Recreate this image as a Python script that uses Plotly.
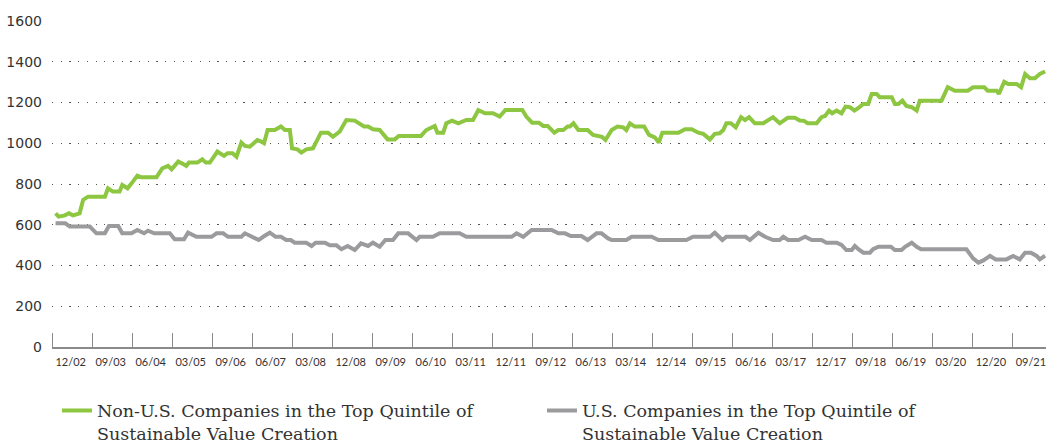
import plotly.graph_objects as go

# Months elapsed since the start of the chart window (x) and index level (y)
non_us_month = [0.8, 1.5, 2.9, 3.8, 4.7, 6.2, 7.0, 8.1, 11.9, 12.6, 13.7, 15.2, 15.8, 17.0, 17.9,
                19.2, 20.1, 23.5, 24.8, 26.1, 26.9, 28.4, 29.5, 30.2, 30.8, 32.7, 33.8, 34.6, 35.5,
                37.2, 38.7, 39.5, 40.6, 41.5, 42.6, 43.4, 44.5, 46.2, 47.1, 47.7, 48.5, 50.1, 51.5,
                52.4, 53.5, 54.0, 55.2, 56.1, 57.2, 58.7, 60.5, 62.1, 63.2, 64.7, 66.2, 68.1, 70.2,
                71.1, 72.2, 73.7, 75.5, 77.1, 78.0, 83.0, 84.2, 85.2, 86.1, 86.7, 88.0, 88.7, 90.0,
                91.4, 93.2, 94.7, 95.9, 97.4, 99.2, 100.7, 102.0, 105.8, 106.7, 108.0, 109.5, 110.5,
                111.5, 113.0, 113.9, 115.0, 116.0, 116.5, 117.3, 118.4, 120.5, 121.7, 123.0, 123.7,
                124.5, 125.9, 127.2, 128.5, 129.2, 130.0, 131.1, 133.2, 134.3, 135.6, 136.5, 137.3,
                140.9, 142.4, 143.9, 145.4, 146.5, 148.0, 149.1, 150.2, 151.0, 151.7, 152.7, 153.8,
                155.0, 155.9, 156.8, 158.1, 160.0, 161.3, 162.2, 163.7, 165.5, 167.1, 168.2, 169.2,
                170.0, 172.0, 173.1, 173.9, 174.8, 175.5, 176.5, 177.6, 178.5, 179.5, 180.5, 181.4,
                182.5, 183.6, 184.4, 185.5, 186.2, 188.9, 189.6, 190.4, 191.3, 192.2, 193.4, 194.5,
                195.2, 200.1, 201.5, 203.1, 206.0, 207.2, 209.7, 210.5, 212.5, 213.0, 214.2, 215.1,
                217.0, 218.0, 218.9, 220.0, 221.1, 222.2, 223.4]
non_us_value = [656, 640, 646, 656, 646, 656, 722, 738, 738, 779, 763, 763, 795, 779, 803,
                841, 833, 833, 877, 889, 872, 910, 898, 889, 905, 905, 921, 905, 905,
                959, 938, 951, 951, 934, 1003, 987, 983, 1016, 1008, 1000, 1065, 1065, 1082,
                1065, 1065, 975, 970, 954, 970, 975, 1052, 1052, 1032, 1057, 1114, 1111, 1082,
                1082, 1069, 1065, 1019, 1019, 1036, 1036, 1065, 1074, 1085, 1052, 1052, 1098, 1111,
                1098, 1114, 1114, 1163, 1147, 1147, 1131, 1163, 1163, 1131, 1101, 1101, 1085,
                1085, 1052, 1065, 1065, 1082, 1082, 1098, 1065, 1065, 1041, 1032, 1032,
                1016, 1065, 1082, 1078, 1065, 1098, 1082, 1082, 1041, 1029, 1003, 1052,
                1052, 1069, 1069, 1052, 1046, 1019, 1046, 1049, 1065, 1098, 1098, 1078,
                1128, 1114, 1128, 1098, 1098, 1118, 1128, 1098, 1125, 1125, 1112, 1110,
                1098, 1098, 1128, 1134, 1160, 1147, 1160, 1147, 1180, 1177, 1160, 1173,
                1193, 1193, 1242, 1242, 1226, 1226, 1193, 1193, 1209, 1183, 1177, 1160,
                1209, 1209, 1275, 1258, 1258, 1275, 1275, 1258, 1258, 1242, 1302, 1291,
                1291, 1275, 1340, 1319, 1319, 1340, 1352]

us_month = [0.8, 3.0, 4.0, 8.5, 10.0, 11.9, 12.8, 14.9, 15.8, 17.9, 19.2, 20.7, 21.6, 23.0, 26.5,
            27.6, 29.7, 30.6, 32.5, 35.9, 37.0, 38.5, 39.6, 42.6, 43.4, 44.5, 45.2, 46.5, 47.5,
            49.0, 50.3, 51.5, 52.7, 53.7, 54.6, 57.2, 58.4, 59.3, 61.4, 62.5, 64.0, 65.1, 66.5,
            68.1, 69.5, 71.1, 72.2, 73.7, 75.0, 76.7, 77.9, 80.1, 82.0, 82.7, 85.7, 87.2, 91.7,
            93.2, 103.4, 104.5, 106.0, 107.9, 112.4, 113.9, 115.4, 116.7, 119.1, 120.5, 122.5,
            123.6, 125.1, 125.9, 129.2, 130.4, 134.9, 136.4, 142.7, 144.2, 148.0, 149.1, 150.8,
            151.7, 156.0, 157.0, 158.9, 160.4, 162.2, 163.7, 164.5, 165.6, 167.9, 169.4, 170.9,
            173.1, 174.2, 176.5, 177.6, 178.7, 179.9, 180.6, 181.4, 182.5, 184.0, 184.7, 185.9,
            188.7, 189.6, 191.1, 191.9, 193.4, 194.5, 195.5, 205.7, 207.2, 208.4, 209.5, 211.0,
            212.3, 214.7, 216.2, 217.7, 218.9, 220.2, 221.5, 222.2, 223.4]
us_value = [607, 607, 591, 591, 558, 558, 594, 594, 558, 558, 574, 558, 571, 558, 558,
            529, 529, 561, 541, 541, 558, 558, 541, 541, 558, 545, 541, 525, 541,
            561, 541, 541, 525, 525, 512, 512, 496, 512, 512, 499, 499, 480, 496,
            476, 509, 496, 512, 492, 525, 525, 558, 558, 525, 541, 541, 558, 558,
            541, 541, 558, 541, 574, 574, 558, 558, 545, 545, 525, 558,
            558, 533, 525, 525, 541, 541, 525, 525, 541, 541, 561, 525,
            541, 541, 525, 561, 541, 525, 525, 541, 525, 525, 541, 525,
            525, 512, 512, 501, 476, 476, 496, 480, 463, 463, 480, 492,
            492, 476, 476, 492, 512, 492, 480, 480, 435, 414, 425, 447,
            430, 430, 447, 430, 463, 463, 447, 430, 448]

period_labels = ["12/02", "09/03", "06/04", "03/05", "09/06", "06/07", "03/08", "12/08",
                 "09/09", "06/10", "03/11", "12/11", "09/12", "06/13", "03/14", "12/14",
                 "09/15", "06/16", "03/17", "12/17", "09/18", "06/19", "03/20", "12/20", "09/21"]
months_per_period = 9
x_end = 223.6

series_names = ["Non-U.S. Companies in the Top Quintile of<br>Sustainable Value Creation",
                "U.S. Companies in the Top Quintile of<br>Sustainable Value Creation"]
y_ticks = [0, 200, 400, 600, 800, 1000, 1200, 1400, 1600]

GREEN = "#8dc641"
GREY = "#9b9b9e"

boundaries = [i * months_per_period for i in range(len(period_labels))]
centers = [b + months_per_period / 2 - 0.3 for b in boundaries]

fig = go.Figure()
fig.add_trace(go.Scatter(x=non_us_month, y=non_us_value, mode="lines", name=series_names[0],
                         line=dict(color=GREEN, width=4)))
fig.add_trace(go.Scatter(x=us_month, y=us_value, mode="lines", name=series_names[1],
                         line=dict(color=GREY, width=4)))

fig.update_layout(
    width=1046, height=444,
    margin=dict(l=52, r=0, t=21, b=97, autoexpand=False),
    paper_bgcolor="white", plot_bgcolor="white",
    xaxis=dict(
        range=[0, x_end], tickmode="array", tickvals=centers, ticktext=period_labels,
        ticks="", showgrid=False, zeroline=False, automargin=False,
        ticklabeloverflow="allow",
        showline=True, linecolor="#8a8a8a", linewidth=1.5,
        tickfont=dict(family="Lato", size=11, color="#333333"),
        ticklabelstandoff=4,
        minor=dict(tickmode="array", tickvals=boundaries, ticks="inside", ticklen=14,
                   tickcolor="#8a8a8a", tickwidth=1.3, showgrid=False),
    ),
    yaxis=dict(
        range=[0, 1600], tickmode="array", tickvals=y_ticks,
        showgrid=True, gridcolor="#555555", gridwidth=1.2, griddash="1.2px,7.5px",
        zeroline=False, showline=False, ticks="", automargin=False,
        tickfont=dict(family="DejaVu Sans", size=14, color="#333333"),
        ticklabelstandoff=9,
    ),
    showlegend=True,
    legend=dict(orientation="h", x=0.005, xanchor="left", y=-0.14, yanchor="top",
                font=dict(family="DejaVu Serif", size=17.5, color="#333333"),
                entrywidth=440, valign="top", bgcolor="rgba(0,0,0,0)",
                itemclick=False),
)

fig.write_html("out.html", config={"displayModeBar": False},
               post_script="document.body.style.margin='0';document.body.style.overflow='hidden';")
